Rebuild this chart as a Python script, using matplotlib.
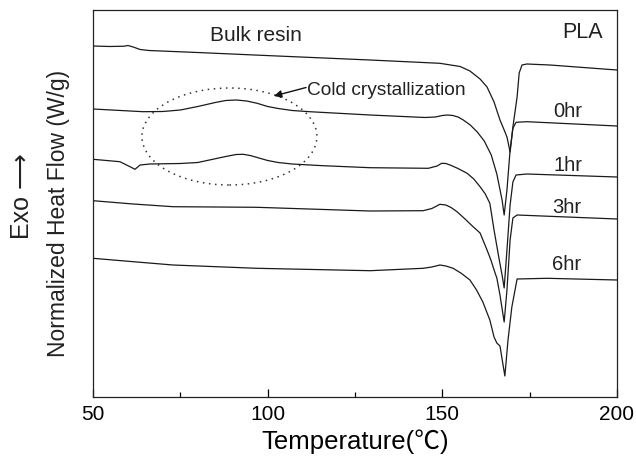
import matplotlib
matplotlib.use("Agg")
import matplotlib.pyplot as plt
from matplotlib.patches import Ellipse
from matplotlib.ticker import MultipleLocator

plt.rcParams['font.family'] = ['Liberation Sans', 'DejaVu Sans']

# ---- data (temperature in degC, normalized heat flow, offset arbitrary units) ----
bulk_T = [50.0, 54.9, 58.9, 60.0, 61.5, 63.5, 66.0, 80.6, 100.1, 129.3, 149.3, 155.1, 157.9,
          160.8, 162.8, 164.8, 166.5, 167.7, 168.5, 169.4, 170.2, 171.4, 172.0, 172.8,
          174.2, 180.8, 200.0]
bulk_HF = [3.51, 3.505, 3.508, 3.515, 3.50, 3.475, 3.465, 3.444, 3.414, 3.37, 3.337, 3.305,
           3.26, 3.18, 3.10, 2.95, 2.77, 2.67, 2.60, 2.45, 2.70, 3.00, 3.24, 3.32,
           3.33, 3.32, 3.27]

h0_T = [50.0, 64.3, 70.0, 75.0, 80.0, 85.0, 88.0, 91.0, 94.0, 97.0, 100.0, 103.0, 107.0,
        112.0, 129.3, 145.0, 148.0, 150.0, 151.5, 153.0, 154.5, 156.0, 158.0, 160.0, 162.0,
        164.0, 165.6, 167.1, 167.7, 168.5, 169.4, 170.2, 171.1, 174.2, 200.0]
h0_HF = [2.88, 2.853, 2.855, 2.87, 2.905, 2.945, 2.965, 2.97, 2.96, 2.937, 2.905, 2.885,
         2.865, 2.853, 2.82, 2.795, 2.80, 2.815, 2.82, 2.815, 2.80, 2.77, 2.72, 2.65, 2.56,
         2.42, 2.23, 1.97, 1.82, 2.07, 2.47, 2.687, 2.747, 2.753, 2.71]

h1_T = [50.0, 57.7, 60.6, 62.0, 63.5, 66.3, 75.0, 80.0, 84.0, 88.0, 91.0, 93.0, 95.0, 97.5,
        100.0, 103.0, 107.0, 115.8, 129.3, 146.0, 148.5, 149.8, 151.0, 152.2, 154.5, 157.1,
        159.0, 160.8, 162.3, 163.6, 164.8, 166.2, 167.1, 167.7, 168.5, 169.4, 170.2, 171.1,
        174.2, 200.0]
h1_HF = [2.377, 2.353, 2.303, 2.277, 2.32, 2.33, 2.335, 2.345, 2.375, 2.405, 2.425, 2.427,
         2.415, 2.39, 2.365, 2.345, 2.33, 2.313, 2.293, 2.287, 2.31, 2.337, 2.335, 2.32,
         2.285, 2.237, 2.18, 2.103, 2.03, 1.937, 1.67, 1.39, 1.22, 1.09, 1.47, 1.92, 2.15,
         2.22, 2.23, 2.20]

h3_T = [50.0, 61.5, 72.9, 96.9, 129.3, 144.5, 147.0, 149.3, 151.0, 152.5, 154.2, 156.5,
        158.8, 160.8, 162.8, 163.9, 165.1, 165.6, 166.5, 167.7, 168.5, 169.4, 170.2, 171.4,
        200.0]
h3_HF = [1.963, 1.93, 1.903, 1.897, 1.86, 1.863, 1.885, 1.927, 1.92, 1.895, 1.853, 1.78,
         1.703, 1.64, 1.47, 1.37, 1.24, 1.19, 1.02, 0.75, 1.07, 1.57, 1.79, 1.82, 1.78]

h6_T = [50.0, 61.5, 72.9, 96.9, 129.3, 144.5, 147.0, 149.3, 151.0, 153.1, 155.5, 157.9,
        159.8, 161.6, 163.6, 164.8, 165.6, 166.5, 167.9, 168.8, 169.9, 171.4, 180.0, 200.0]
h6_HF = [1.387, 1.353, 1.32, 1.287, 1.263, 1.287, 1.30, 1.32, 1.31, 1.287, 1.235, 1.17,
         1.07, 0.95, 0.77, 0.60, 0.54, 0.51, 0.21, 0.57, 0.90, 1.18, 1.187, 1.17]

x_ticks = [50, 100, 150, 200]
curve_labels = ['0hr', '1hr', '3hr', '6hr']
label_T = [181.7, 181.7, 181.4, 181.4]
label_HF = [2.80, 2.26, 1.84, 1.27]

# ---- figure ----
fig = plt.figure(figsize=(6.36, 4.65), dpi=100)
ax = fig.add_axes([93/636, 68/465, 524/636, 387/465])

lc = '#1a1a1a'
for T, HF in [(bulk_T, bulk_HF), (h0_T, h0_HF), (h1_T, h1_HF), (h3_T, h3_HF), (h6_T, h6_HF)]:
    ax.plot(T, HF, color=lc, lw=0.9, solid_joinstyle='round')

ax.set_xlim(50, 200)
ax.set_ylim(0, 3.87)
ax.set_xticks(x_ticks)
ax.xaxis.set_minor_locator(MultipleLocator(25))
ax.tick_params(axis='x', which='major', direction='in', length=6, width=0.9,
               labelsize=15, pad=6, top=False)
ax.tick_params(axis='x', which='minor', direction='in', length=3.5, width=0.9, top=False)
ax.set_yticks([])
for s in ax.spines.values():
    s.set_linewidth(0.9)
    s.set_color('#222222')

# annotations
ax.text(83.5, 3.563, 'Bulk resin', fontsize=15, va='baseline', ha='left', color='#222222')
ax.text(184.3, 3.587, 'PLA', fontsize=15.5, va='baseline', ha='left', color='#222222')
for lab, t, h in zip(curve_labels, label_T, label_HF):
    ax.text(t, h, lab, fontsize=14.5, va='baseline', ha='left', color='#222222')

ax.add_patch(Ellipse((89.05, 2.605), 50.1, 0.97, fill=False, ec='#333333', lw=1.1,
                     ls=(0, (1, 3))))
ax.annotate('', xy=(101.8, 3.01), xytext=(111.0, 3.095),
            arrowprops=dict(arrowstyle='-|>', color='#111111', lw=1.0, mutation_scale=11,
                            shrinkA=0, shrinkB=0))
ax.text(111.4, 3.02, 'Cold crystallization', fontsize=13.8, va='baseline', ha='left',
        color='#222222')

ax.set_xlabel('Temperature(℃)', fontsize=18.5, family=['Liberation Sans', 'Noto Sans CJK SC'],
              labelpad=4)

fig.text(22/636, 1 - 196/465, 'Exo ⟶', rotation=90, fontsize=18, ha='center', va='center',
         color='#222222')
fig.text(59/636, 1 - 213/465, 'Normalized Heat Flow (W/g)', rotation=90, fontsize=16.5,
         ha='center', va='center', color='#222222')

fig.savefig('out.png', dpi=100)
